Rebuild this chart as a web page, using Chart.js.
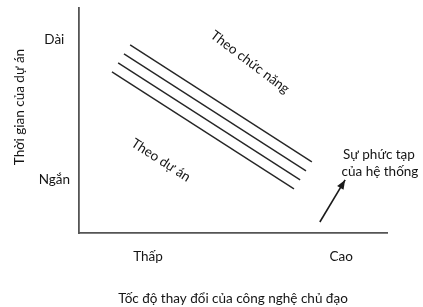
<!DOCTYPE html>
<html>
<head>
<meta charset="utf-8">
<script src="https://cdn.jsdelivr.net/npm/chart.js@4.4.0/dist/chart.umd.min.js"></script>
<style>
  html, body { margin: 0; padding: 0; background: #fff; }
  #wrap { width: 423px; height: 307px; }
</style>
</head>
<body>
<div id="wrap"><canvas id="chart"></canvas></div>
<script>
// axis ticks (0..100 scale on both axes)
const xTickValues = [22.4, 85.1];
const xTickLabels = ['Thấp', 'Cao'];
const yTickValues = [23.6, 85.8];
const yTickLabels = ['Ngắn', 'Dài'];

// the four parallel lines
const lineStartX = [16.6, 14.6, 12.7, 10.7];
const lineStartY = [83.6, 79.6, 75.6, 71.6];
const lineEndX = [75.6, 73.7, 71.8, 69.8];
const lineEndY = [31.6, 27.6, 23.6, 19.6];

// complexity arrow
const arrowX = [78.2, 86.4];
const arrowY = [4.9, 23.6];

// free text on the chart
const noteTexts = ['Theo chức năng', 'Theo dự án', 'Sự phức tạp', 'của hệ thống'];
const noteX = [55.5, 26.6, 97.4, 97.7];
const noteY = [76, 32.4, 34.7, 27.1];
const noteAngle = [37, 33, 0, 0];

const yTitle = 'Thời gian của dự án';
const yTitleAt = 56;

const FONT = 'Lato, "Open Sans", sans-serif';
const SIZE = 13.5;
const INK = '#151515';

const datasets = lineStartX.map((x0, i) => ({
  data: [{x: x0, y: lineStartY[i]}, {x: lineEndX[i], y: lineEndY[i]}],
  showLine: true,
  borderColor: '#262626',
  borderWidth: 1.4,
  pointRadius: 0,
}));
datasets.push({
  data: [{x: arrowX[0], y: arrowY[0]}, {x: arrowX[1], y: arrowY[1]}],
  showLine: true,
  borderColor: '#1a1a1a',
  borderWidth: 1.6,
  pointRadius: 0,
  clip: false,
});

const annotate = {
  id: 'annotate',
  afterDatasetsDraw(chart) {
    const {ctx, scales: {x, y}} = chart;
    ctx.save();
    // arrow head
    const x0 = x.getPixelForValue(arrowX[0]), y0 = y.getPixelForValue(arrowY[0]);
    const x1 = x.getPixelForValue(arrowX[1]), y1 = y.getPixelForValue(arrowY[1]);
    const ang = Math.atan2(y1 - y0, x1 - x0);
    const len = 10, spread = 0.38;
    ctx.fillStyle = '#1a1a1a';
    ctx.beginPath();
    ctx.moveTo(x1, y1);
    ctx.lineTo(x1 - len * Math.cos(ang - spread), y1 - len * Math.sin(ang - spread));
    ctx.lineTo(x1 - len * Math.cos(ang + spread), y1 - len * Math.sin(ang + spread));
    ctx.closePath();
    ctx.fill();

    // notes
    ctx.font = SIZE + 'px ' + FONT;
    ctx.fillStyle = INK;
    ctx.textAlign = 'center';
    ctx.textBaseline = 'middle';
    noteTexts.forEach((t, i) => {
      ctx.save();
      ctx.translate(x.getPixelForValue(noteX[i]), y.getPixelForValue(noteY[i]));
      ctx.rotate(noteAngle[i] * Math.PI / 180);
      ctx.fillText(t, 0, 0);
      ctx.restore();
    });

    // y axis title (sits a bit above the middle in the original)
    ctx.save();
    ctx.translate(x.left - 59, y.getPixelForValue(yTitleAt));
    ctx.rotate(-Math.PI / 2);
    ctx.fillText(yTitle, 0, 0);
    ctx.restore();
    ctx.restore();
  }
};

new Chart(document.getElementById('chart'), {
  type: 'scatter',
  data: { datasets },
  plugins: [annotate],
  options: {
    responsive: true,
    maintainAspectRatio: false,
    animation: false,
    layout: { padding: { top: 8, right: 36, left: 0, bottom: 0 } },
    plugins: { legend: { display: false }, tooltip: { enabled: false } },
    scales: {
      x: {
        type: 'linear',
        min: 0,
        max: 100,
        grid: { display: false, drawTicks: false },
        border: { color: '#555', width: 1.8 },
        afterBuildTicks: (scale) => { scale.ticks = xTickValues.map(v => ({ value: v })); },
        afterFit: (scale) => {
          scale.height = 74;
          scale.paddingLeft = 0;
          scale.paddingRight = 0;
        },
        ticks: {
          autoSkip: false,
          maxRotation: 0,
          padding: 16,
          color: INK,
          font: { family: FONT, size: SIZE },
          callback: (v, i) => xTickLabels[i],
        },
        title: {
          display: true,
          text: 'Tốc độ thay đổi của công nghệ chủ đạo',
          color: INK,
          font: { family: FONT, size: SIZE },
          padding: { top: 0, bottom: 0 },
        },
      },
      y: {
        type: 'linear',
        min: 0,
        max: 100,
        grid: { display: false, drawTicks: false },
        border: { color: '#555', width: 1.8 },
        afterBuildTicks: (scale) => { scale.ticks = yTickValues.map(v => ({ value: v })); },
        afterFit: (scale) => {
          scale.width = 79;
          scale.paddingTop = 0;
          scale.paddingBottom = 0;
        },
        ticks: {
          autoSkip: false,
          padding: 9,
          crossAlign: 'center',
          color: INK,
          font: { family: FONT, size: SIZE },
          callback: (v, i) => yTickLabels[i],
        },
      },
    },
  },
});
</script>
</body>
</html>
